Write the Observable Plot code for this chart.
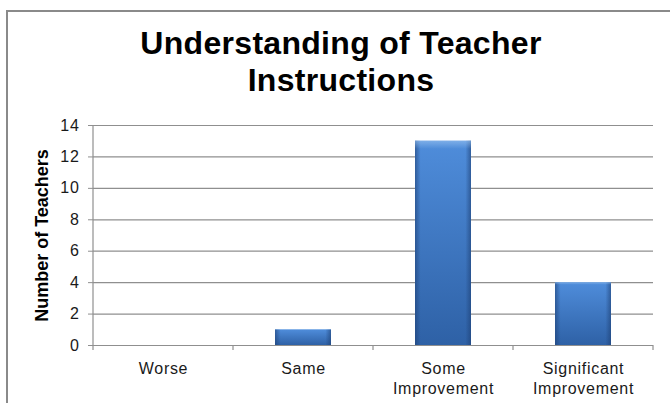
<!DOCTYPE html>
<html>
<head>
<meta charset="utf-8">
<script src="https://cdn.jsdelivr.net/npm/d3@7"></script>
<script src="https://cdn.jsdelivr.net/npm/@observablehq/plot@0.6"></script>
<style>
  html, body { margin: 0; padding: 0; background: #fff; }
  #wrap { position: relative; width: 670px; height: 403px; overflow: hidden; font-family: "Liberation Sans", Arial, sans-serif; }
  #frame { position: absolute; left: 6px; top: 10px; width: 720px; height: 500px; border: 2px solid #8a8a8a; box-sizing: border-box; }
  #title { position: relative; margin: 0; padding-top: 25px; padding-left: 12px; height: 75px; text-align: center;
           font-size: 32px; line-height: 37px; font-weight: bold; color: #000; letter-spacing: 0.3px; }
  #chart { position: relative; }
  #chart svg g[aria-label="x-axis tick label"] text,
  #chart svg g[aria-label="y-axis tick label"] text { letter-spacing: 0.7px; }
</style>
</head>
<body>
<div id="wrap">
  <div id="frame"></div>
  <div id="title">Understanding of Teacher<br>Instructions</div>
  <div id="chart"></div>
</div>
<script>
const categories = ["Worse", "Same", "Some\nImprovement", "Significant\nImprovement"];
const values = [0, 1, 13, 4];
const yTicks = [0, 2, 4, 6, 8, 10, 12, 14];
const yLabel = "Number of Teachers";

const data = categories.map((c, i) => ({category: c, value: values[i]}));

// band boundary ticks + y axis line
function axisDecor(index, scales, vals, dims) {
  const xs = scales.x, ys = scales.y;
  const g = d3.create("svg:g").attr("stroke", "#8f8f8f").attr("stroke-width", 1.2);
  const y0 = ys(0);
  const left = dims.marginLeft;
  g.append("line").attr("x1", left).attr("x2", left)
    .attr("y1", dims.marginTop).attr("y2", y0 + 5);
  const bw = xs.bandwidth ? xs.bandwidth() : 0;
  categories.forEach(c => {
    const xr = xs(c) + bw;
    g.append("line").attr("x1", xr).attr("x2", xr).attr("y1", y0).attr("y2", y0 + 5);
  });
  return g.node();
}

const plot = Plot.plot({
  width: 670,
  height: 303,
  marginLeft: 93,
  marginRight: 17,
  marginTop: 25,
  marginBottom: 58,
  style: {fontSize: "15px", fontFamily: "'Liberation Sans', Arial, sans-serif", color: "#1a1a1a", background: "transparent"},
  x: {domain: categories, paddingInner: 0, paddingOuter: 0},
  y: {domain: [0, 14]},
  marks: [
    Plot.ruleY(yTicks, {stroke: "#8f8f8f", strokeWidth: 1.2, strokeOpacity: 1}),
    Plot.barY(data, {x: "category", y: "value", fill: "url(#barGradV)", insetLeft: 42, insetRight: 42}),
    Plot.barY(data, {x: "category", y: "value", fill: "url(#barGradH)", insetLeft: 42, insetRight: 42}),
    Plot.barY(data, {x: "category", y: "value", fill: "url(#barGradTop)", insetLeft: 42, insetRight: 42}),
    axisDecor,
    Plot.axisX({tickSize: 0, tickPadding: 14, lineHeight: 1.25, label: null, fontSize: 16, fill: "#1a1a1a"}),
    Plot.axisY({ticks: yTicks, tickSize: 5, tickPadding: 9, label: null, fontSize: 16, stroke: "#8f8f8f", fill: "#1a1a1a"}),
    Plot.text([yLabel], {frameAnchor: "left", textAnchor: "middle", rotate: -90, dx: -51, fontWeight: "bold", fontSize: 18, fill: "#000"})
  ]
});

const svg = d3.select(plot);
const defs = svg.insert("defs", ":first-child");
const gv = defs.append("linearGradient").attr("id", "barGradV").attr("x1", 0).attr("y1", 0).attr("x2", 0).attr("y2", 1);
gv.append("stop").attr("offset", "0%").attr("stop-color", "#4f8ddb");
gv.append("stop").attr("offset", "100%").attr("stop-color", "#2e61a6");
const gh = defs.append("linearGradient").attr("id", "barGradH").attr("x1", 0).attr("y1", 0).attr("x2", 1).attr("y2", 0);
gh.append("stop").attr("offset", "0%").attr("stop-color", "#1d3f73").attr("stop-opacity", 0.6);
gh.append("stop").attr("offset", "10%").attr("stop-color", "#1d3f73").attr("stop-opacity", 0.0);
gh.append("stop").attr("offset", "90%").attr("stop-color", "#1d3f73").attr("stop-opacity", 0.0);
gh.append("stop").attr("offset", "100%").attr("stop-color", "#1d3f73").attr("stop-opacity", 0.6);
const gt = defs.append("linearGradient").attr("id", "barGradTop").attr("x1", 0).attr("y1", 0).attr("x2", 0).attr("y2", 1);
gt.append("stop").attr("offset", "0%").attr("stop-color", "#9cc4f0").attr("stop-opacity", 0.6);
gt.append("stop").attr("offset", "4%").attr("stop-color", "#9cc4f0").attr("stop-opacity", 0.0);
gt.append("stop").attr("offset", "100%").attr("stop-color", "#9cc4f0").attr("stop-opacity", 0.0);

document.getElementById("chart").appendChild(plot);
</script>
</body>
</html>
